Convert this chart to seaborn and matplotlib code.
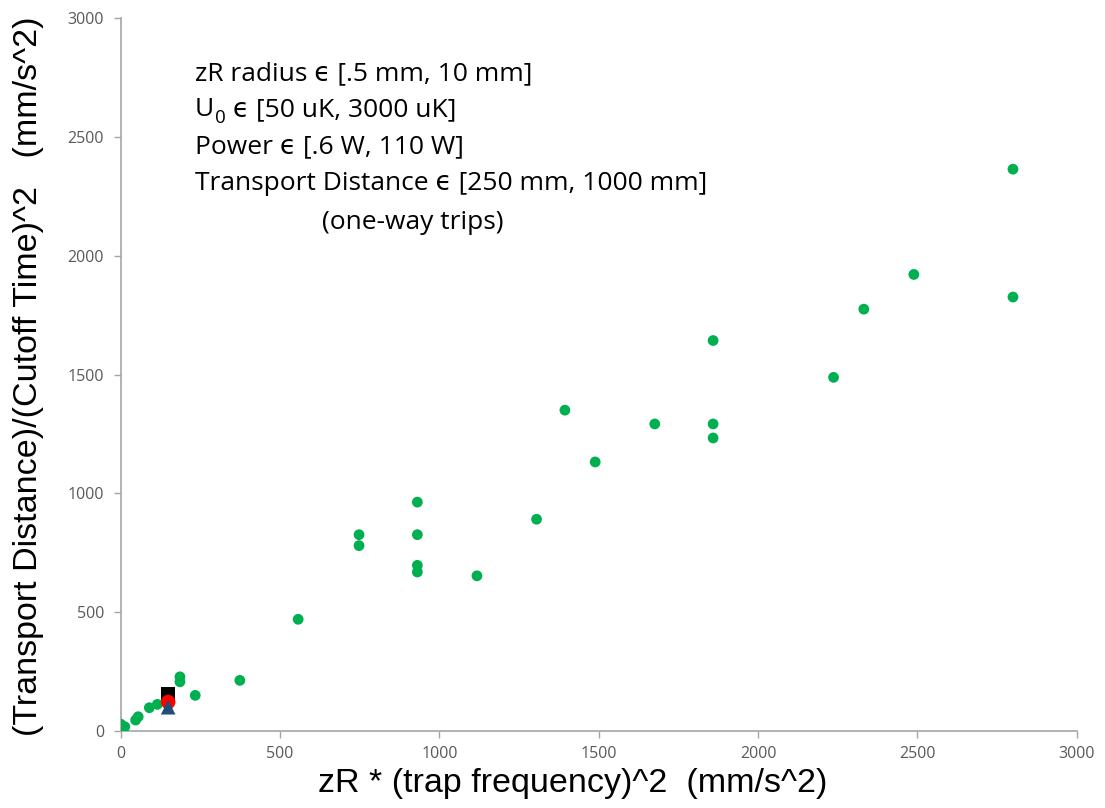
import matplotlib
matplotlib.use("Agg")
import matplotlib.pyplot as plt
import seaborn as sns
import pandas as pd

# Simulated transport runs: zR * (trap frequency)^2 vs distance / cutoff time^2
sim_x = [0, 13, 47, 55, 90, 115, 186, 186, 234, 374, 557, 748, 748, 931, 931,
         931, 931, 1118, 1305, 1394, 1489, 1676, 1859, 1859, 1859, 2237, 2332,
         2489, 2800, 2800]
sim_y = [29, 18, 46, 60, 98, 112, 228, 207, 150, 213, 470, 826, 780, 963, 826,
         697, 669, 653, 891, 1350, 1132, 1292, 1643, 1292, 1233, 1488, 1775,
         1921, 2364, 1826]

# Three reference configurations sharing one trap setting
ref_x = [149, 149, 149]
ref_y = [154, 122, 100]
ref_kind = ["square", "circle", "triangle"]

axis_ticks = [0, 500, 1000, 1500, 2000, 2500, 3000]

info_lines = [
    "zR radius \u03f5 [.5 mm, 10 mm]",
    None,  # trap depth line, drawn piecewise for its subscript
    "Power \u03f5 [.6 W, 110 W]",
    "Transport Distance \u03f5 [250 mm, 1000 mm]",
    "(one-way trips)",
]
depth_symbol, depth_sub, depth_range = "U", "0", " \u03f5 [50 uK, 3000 uK]"

sns.set_theme(style="white")
plt.rcParams["font.family"] = ["Open Sans", "DejaVu Sans"]

fig = plt.figure(figsize=(11.05, 8.08), dpi=100)
ax = fig.add_axes([0.1092, 0.0953, 0.8652, 0.8824])

sim = pd.DataFrame({"x": sim_x, "y": sim_y})
sns.scatterplot(data=sim, x="x", y="y", ax=ax, color="#00b050", s=60,
                edgecolor="none", zorder=3)

ref = pd.DataFrame({"x": ref_x, "y": ref_y, "kind": ref_kind})
sns.scatterplot(data=ref, x="x", y="y", hue="kind", style="kind", ax=ax,
                hue_order=ref_kind, style_order=ref_kind,
                palette={"square": "#000000", "circle": "#ff0000",
                         "triangle": "#1f4e79"},
                markers={"square": "s", "circle": "o", "triangle": "^"},
                s=110, edgecolor="none", legend=False, zorder=4)

ax.set_xlim(0, 3000)
ax.set_ylim(0, 3000)
ax.set_xticks(axis_ticks)
ax.set_yticks(axis_ticks)
ax.set_xticklabels([str(t) for t in axis_ticks])
ax.set_yticklabels([str(t) for t in axis_ticks])

for side in ("top", "right"):
    ax.spines[side].set_visible(False)
for side in ("left", "bottom"):
    ax.spines[side].set_color("#a6a6a6")
    ax.spines[side].set_linewidth(1.2)

ax.tick_params(axis="both", which="major", direction="out", length=5,
               width=1.0, color="#a6a6a6", labelsize=11.5, labelcolor="#595959",
               bottom=True, left=True)
ax.tick_params(axis="x", pad=6)
ax.tick_params(axis="y", pad=7)

label_font = ["Liberation Sans", "DejaVu Sans"]
ax.set_xlabel("zR * (trap frequency)^2  (mm/s^2)", fontsize=24.5,
              family=label_font, color="black")
ax.set_ylabel("(Transport Distance)/(Cutoff Time)^2   (mm/s^2)", fontsize=24.5,
              family=label_font, color="black")
ax.xaxis.set_label_coords(0.473, -0.052, transform=ax.transAxes)
ax.yaxis.set_label_coords(-0.080, 0.497, transform=ax.transAxes)

# Parameter-range notes (pixel positions of each baseline)
W, H = 1105, 808
line_pos = [(195, 80), (195, 116), (195, 153), (195, 190), (322, 229)]
fs = 19
for txt, (px, py) in zip(info_lines, line_pos):
    if txt is None:
        continue
    fig.text(px / W, 1 - py / H, txt, fontsize=fs, color="black",
             ha="left", va="baseline")

px, py = line_pos[1]
u_txt = ax.annotate(depth_symbol, xy=(px / W, 1 - py / H),
                    xycoords="figure fraction", fontsize=fs, color="black",
                    ha="left", va="baseline", annotation_clip=False)
sub_txt = ax.annotate(depth_sub, xy=(1, 0), xycoords=u_txt,
                      xytext=(0.5, -0.5), textcoords="offset points",
                      fontsize=13.5, color="black", ha="left", va="baseline",
                      annotation_clip=False)
ax.annotate(depth_range, xy=(1, 1 - py / H),
            xycoords=(sub_txt, "figure fraction"), fontsize=fs, color="black",
            ha="left", va="baseline", annotation_clip=False)

fig.savefig("out.png", dpi=100)
